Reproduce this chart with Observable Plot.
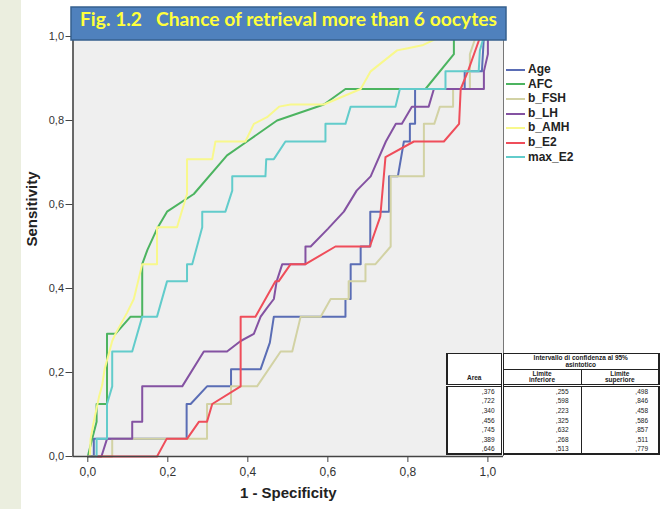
<!DOCTYPE html>
<html>
<head>
<meta charset="utf-8">
<script src="https://cdn.jsdelivr.net/npm/d3@7"></script>
<script src="https://cdn.jsdelivr.net/npm/@observablehq/plot@0.6"></script>
<style>
  body { margin: 0; background: #ffffff; font-family: "Liberation Sans", Arial, sans-serif; }
  #wrap { position: relative; width: 666px; height: 509px; overflow: hidden; background: #ffffff; }
  #strip { position: absolute; left: 0; top: 0; width: 21px; height: 509px; background: #ebeedf; }
  #chart { position: absolute; left: 0; top: 0; }
  #titlebox { position: absolute; left: 0; top: 0; }
  #legend { position: absolute; left: 506px; top: 62px; font-family: "Liberation Sans", Arial, sans-serif; font-weight: bold; font-size: 12px; color: #222; }
  .lg { position: relative; height: 14.6px; line-height: 14.6px; white-space: pre; }
  .lg span.sw { display: inline-block; width: 19px; height: 2px; vertical-align: middle; margin-right: 3px; }
  #tbl { position: absolute; left: 446px; top: 353px; width: 212px; table-layout: fixed; border-collapse: collapse; background: #ffffff;
         font-family: "Liberation Sans", Arial, sans-serif; font-size: 6.5px; color: #222; }
  #tbl td, #tbl th { padding: 0 3px; font-weight: normal; overflow: hidden; }
</style>
</head>
<body>
<div id="wrap">
  <div id="strip"></div>
  <div id="chart"></div>
  <svg id="titlebox" width="666" height="60"></svg>
  <div id="legend"></div>
  <table id="tbl"><colgroup><col style="width:55px"><col style="width:79px"><col style="width:78px"></colgroup></table>
</div>
<script>
// ---- data ----
const seriesNames = ["Age", "AFC", "b_FSH", "b_LH", "b_AMH", "b_E2", "max_E2"];
const seriesColors = ["#5a6db5", "#4cb460", "#d2d2a4", "#8452a2", "#f8f88c", "#ef4d5a", "#62cccb"];

const age = [[0,0],[0.015,0],[0.015,0.042],[0.247,0.042],[0.247,0.125],[0.257,0.125],[0.298,0.167],[0.358,0.167],[0.358,0.208],[0.432,0.208],[0.455,0.271],[0.465,0.333],[0.644,0.333],[0.644,0.375],[0.657,0.375],[0.657,0.458],[0.682,0.458],[0.682,0.5],[0.706,0.5],[0.706,0.583],[0.753,0.583],[0.753,0.667],[0.775,0.667],[0.79,0.75],[0.805,0.75],[0.805,0.792],[0.818,0.792],[0.818,0.875],[0.942,0.875],[0.942,0.917],[0.985,0.917],[0.99,1],[1,1]];
const afc = [[0,0],[0.011,0.042],[0.022,0.083],[0.022,0.125],[0.048,0.125],[0.048,0.292],[0.069,0.292],[0.107,0.333],[0.136,0.333],[0.136,0.458],[0.149,0.492],[0.173,0.542],[0.198,0.583],[0.265,0.625],[0.348,0.717],[0.398,0.75],[0.473,0.8],[0.59,0.838],[0.644,0.875],[0.844,0.875],[0.915,0.958],[0.915,1],[1,1]];
const bFSH = [[0,0],[0.061,0],[0.061,0.042],[0.298,0.042],[0.298,0.125],[0.358,0.125],[0.358,0.167],[0.423,0.167],[0.482,0.25],[0.511,0.25],[0.532,0.333],[0.582,0.333],[0.607,0.375],[0.652,0.375],[0.652,0.417],[0.694,0.417],[0.694,0.458],[0.719,0.458],[0.757,0.5],[0.757,0.667],[0.84,0.667],[0.84,0.792],[0.866,0.792],[0.88,0.833],[0.913,0.833],[0.913,0.875],[0.955,0.875],[0.955,0.958],[0.97,1],[1,1]];
const bLH = [[0,0],[0.034,0],[0.048,0.042],[0.111,0.042],[0.111,0.083],[0.136,0.083],[0.136,0.167],[0.236,0.167],[0.29,0.25],[0.348,0.25],[0.382,0.275],[0.415,0.292],[0.432,0.333],[0.448,0.354],[0.465,0.375],[0.472,0.417],[0.486,0.458],[0.544,0.458],[0.544,0.5],[0.557,0.5],[0.6,0.542],[0.64,0.583],[0.672,0.633],[0.707,0.667],[0.745,0.75],[0.77,0.792],[0.785,0.792],[0.81,0.833],[0.852,0.833],[0.865,0.875],[0.99,0.875],[0.99,0.917],[1,0.958],[1,1]];
const bAMH = [[0,0],[0.005,0],[0.007,0.042],[0.015,0.083],[0.028,0.142],[0.036,0.17],[0.042,0.208],[0.061,0.275],[0.069,0.292],[0.098,0.342],[0.115,0.375],[0.136,0.458],[0.173,0.458],[0.173,0.546],[0.223,0.546],[0.248,0.625],[0.248,0.708],[0.311,0.708],[0.319,0.75],[0.394,0.75],[0.415,0.792],[0.448,0.808],[0.478,0.833],[0.507,0.838],[0.59,0.838],[0.682,0.875],[0.707,0.917],[0.773,0.967],[0.794,0.971],[0.836,0.979],[0.865,0.992],[0.89,1],[1,1]];
const bE2 = [[0,0],[0.173,0],[0.197,0.042],[0.248,0.042],[0.278,0.083],[0.298,0.083],[0.311,0.125],[0.382,0.167],[0.382,0.333],[0.419,0.333],[0.469,0.417],[0.477,0.417],[0.507,0.458],[0.544,0.458],[0.619,0.5],[0.705,0.5],[0.731,0.571],[0.744,0.713],[0.815,0.75],[0.89,0.75],[0.928,0.792],[0.932,0.875],[0.95,0.917],[0.981,1],[1,1]];
const maxE2 = [[0,0],[0.022,0],[0.022,0.042],[0.048,0.042],[0.048,0.125],[0.061,0.167],[0.061,0.25],[0.111,0.25],[0.136,0.333],[0.173,0.333],[0.198,0.417],[0.248,0.417],[0.248,0.458],[0.261,0.458],[0.286,0.546],[0.286,0.583],[0.344,0.583],[0.361,0.633],[0.361,0.667],[0.444,0.667],[0.446,0.708],[0.465,0.708],[0.494,0.75],[0.594,0.75],[0.594,0.792],[0.644,0.792],[0.657,0.833],[0.769,0.833],[0.78,0.875],[0.894,0.875],[0.894,0.917],[0.977,0.917],[0.98,0.967],[0.99,1],[1,1]];

const xTicks = [0, 0.2, 0.4, 0.6, 0.8, 1.0];
const yTicks = [0, 0.2, 0.4, 0.6, 0.8, 1.0];

const titleText = "Fig. 1.2   Chance of retrieval more than 6 oocytes";
const xLabel = "1 - Specificity";
const yLabel = "Sensitivity";

const tableHeaderArea = "Area";
const tableHeaderCI = ["Intervallo di confidenza al 95%", "asintotico"];
const tableHeaderLower = ["Limite", "inferiore"];
const tableHeaderUpper = ["Limite", "superiore"];
const areaValues  = [",376", ",722", ",340", ",456", ",745", ",389", ",646"];
const lowerValues = [",255", ",598", ",223", ",325", ",632", ",268", ",513"];
const upperValues = [",498", ",846", ",458", ",586", ",857", ",511", ",779"];

// ---- chart ----
const seriesData = [age, afc, bFSH, bLH, bAMH, bE2, maxE2];
const xMin = -0.037, xMax = 1.039;
const fmt = d => d.toFixed(1).replace(".", ",");

const curveMarks = seriesData.map((s, i) =>
  Plot.line(s, {x: d => d[0], y: d => d[1], stroke: seriesColors[i], strokeWidth: 2})
);

const chart = Plot.plot({
  width: 666,
  height: 509,
  marginLeft: 72.5,
  marginRight: 163,
  marginTop: 36,
  marginBottom: 53,
  x: {domain: [xMin, xMax]},
  y: {domain: [0, 1]},
  style: {fontFamily: "'Liberation Sans', Arial, sans-serif", color: "#333", background: "transparent"},
  marks: [
    Plot.frame({fill: "#efefef", stroke: null}),
    ...curveMarks,
    Plot.ruleX([xMax], {stroke: "#777", strokeWidth: 1}),
    Plot.axisY({ticks: yTicks, tickFormat: fmt, tickSize: 7, tickPadding: 2, fontSize: 11, label: null, stroke: "#444"}),
    Plot.axisX({ticks: xTicks, tickFormat: fmt, tickSize: 6, tickPadding: 5, fontSize: 12, label: null, stroke: "#444"}),
    Plot.ruleY([0], {stroke: "#444", strokeWidth: 1.6}),
    Plot.ruleX([xMin], {stroke: "#444", strokeWidth: 1.6}),
    Plot.text([yLabel], {frameAnchor: "left", dx: -41, rotate: -90, fontSize: 15, fontWeight: "bold", fill: "#222"}),
    Plot.text([xLabel], {frameAnchor: "bottom", dy: 41, fontSize: 15, fontWeight: "bold", fill: "#222"})
  ]
});
document.getElementById("chart").appendChild(chart);

// ---- title box ----
const tsvg = d3.select("#titlebox");
tsvg.append("rect").attr("x", 71).attr("y", 7).attr("width", 435).attr("height", 33)
  .attr("fill", "#4f81bd").attr("stroke", "#36608f").attr("stroke-width", 1.5);
tsvg.append("text").attr("x", 80).attr("y", 25.5).text(titleText)
  .attr("fill", "#ffff3c").attr("font-family", "Lato, 'Open Sans', sans-serif").attr("font-weight", "bold")
  .attr("font-size", 18).attr("textLength", 417).attr("lengthAdjust", "spacingAndGlyphs")
  .style("white-space", "pre");

// ---- legend ----
const lg = d3.select("#legend");
seriesNames.forEach((n, i) => {
  const row = lg.append("div").attr("class", "lg");
  row.append("span").attr("class", "sw").style("background", seriesColors[i]);
  row.append("span").text(n);
});

// ---- table ----
const tbl = d3.select("#tbl");
function twoLines(sel, lines) {
  lines.forEach((t, i) => { if (i) sel.append("br"); sel.append("span").text(t); });
}
const r1 = tbl.append("tr").style("height", "15px");
r1.append("th").attr("rowspan", 2).text(tableHeaderArea)
  .style("vertical-align", "bottom").style("padding-bottom", "3px").style("font-weight", "bold")
  .style("border-left", "2px solid #222").style("border-right", "3px double #222").style("border-top", "1px solid #222");
const ci = r1.append("th").attr("colspan", 2)
  .style("line-height", "6.5px").style("border-top", "1px solid #222").style("border-right", "2px solid #222")
  .style("border-bottom", "1px solid #222").style("padding", "1px 2px").style("font-weight", "bold");
twoLines(ci, tableHeaderCI);
const r2 = tbl.append("tr").style("height", "16px");
const lo = r2.append("th").style("line-height", "6.5px").style("border-right", "1px solid #222").style("font-weight", "bold");
twoLines(lo, tableHeaderLower);
const hi = r2.append("th").style("line-height", "6.5px").style("border-right", "2px solid #222").style("font-weight", "bold");
twoLines(hi, tableHeaderUpper);
areaValues.forEach((a, i) => {
  const r = tbl.append("tr").style("height", "9.7px").style("line-height", "9px");
  const bt = i === 0 ? "3px double #222" : null;
  const bb = i === areaValues.length - 1 ? "2px solid #222" : null;
  r.append("td").text(a).style("text-align", "right").style("border-left", "2px solid #222").style("border-right", "3px double #222")
    .style("border-top", bt).style("border-bottom", bb).style("padding-right", "6px");
  r.append("td").text(lowerValues[i]).style("text-align", "right").style("border-right", "1px solid #222")
    .style("border-top", bt).style("border-bottom", bb).style("padding-right", "12px");
  r.append("td").text(upperValues[i]).style("text-align", "right").style("border-right", "2px solid #222")
    .style("border-top", bt).style("border-bottom", bb).style("padding-right", "10px");
});
</script>
</body>
</html>
